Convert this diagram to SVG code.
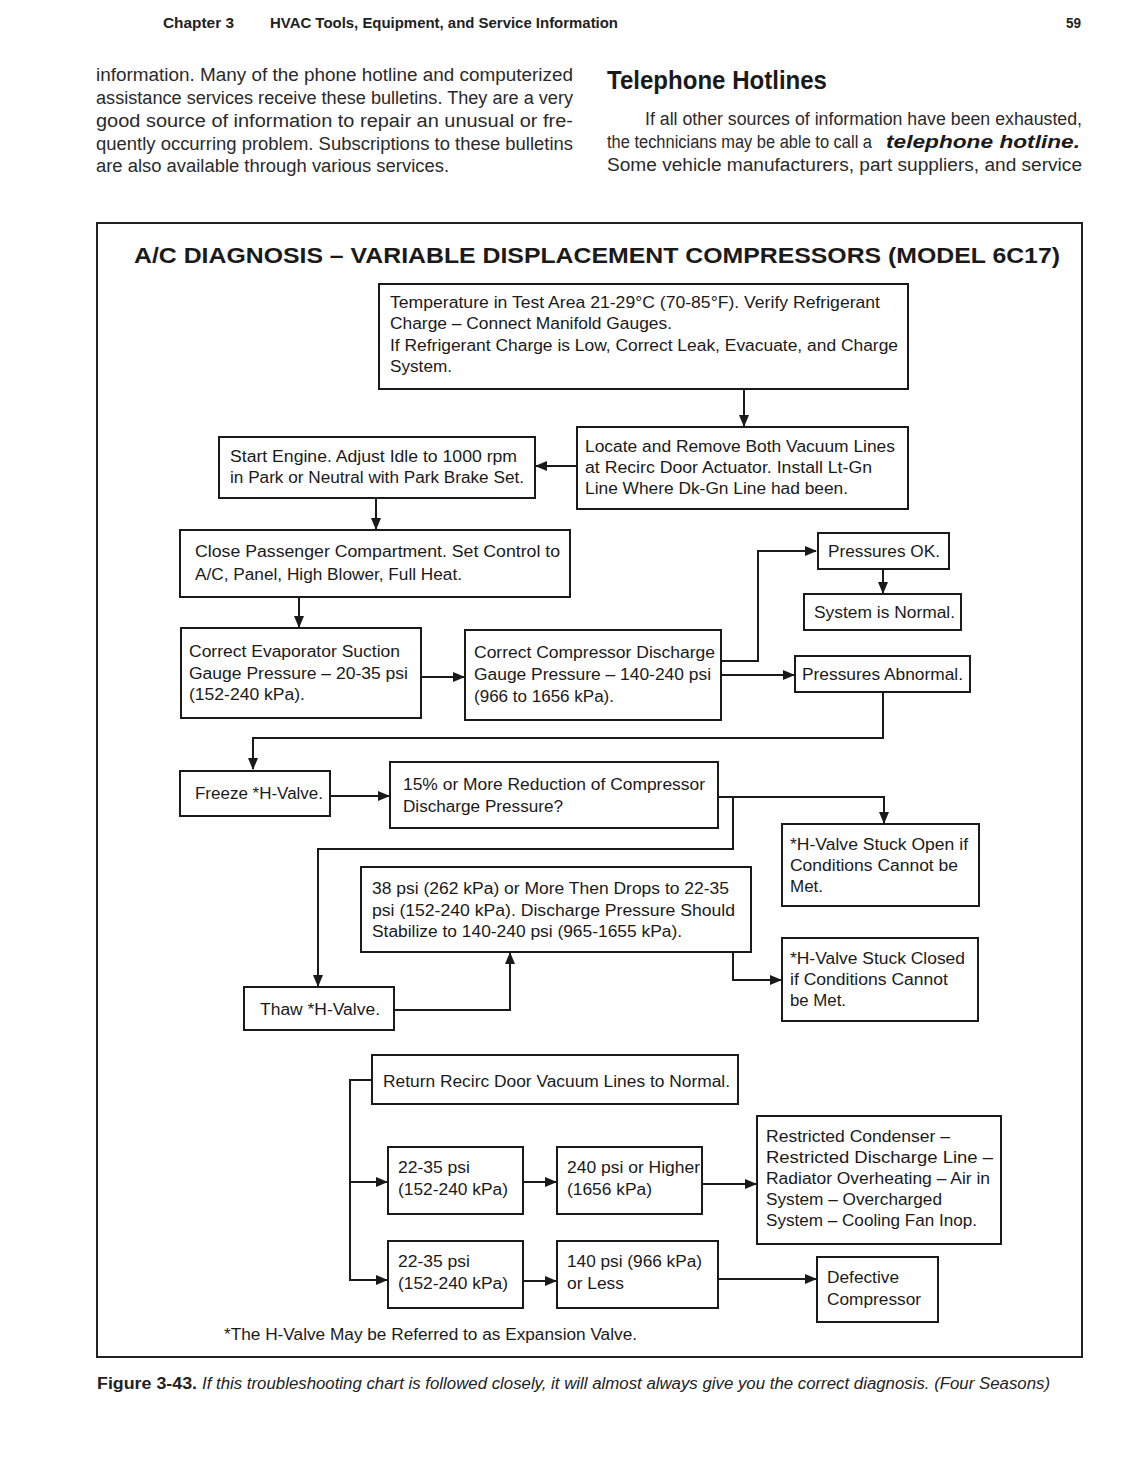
<svg xmlns="http://www.w3.org/2000/svg" width="1144" height="1467" viewBox="0 0 1144 1467">
<defs>
<marker id="ah" markerUnits="userSpaceOnUse" markerWidth="12" markerHeight="10" refX="11" refY="5" orient="auto">
<path d="M0,0 L12,5 L0,10 z" fill="#1a1a1a"/>
</marker>
</defs>
<style>
.pg{font-family:"Liberation Sans Narrow","Liberation Sans",Arial,sans-serif;font-size:18px;fill:#2a2a2a}
.hd{font-family:"Liberation Sans Narrow","Liberation Sans",Arial,sans-serif;font-size:15px;font-weight:bold;fill:#222}
.t{font-family:"Liberation Sans",Arial,sans-serif;font-size:16px;fill:#1a1a1a}
.box{fill:#fff;stroke:#1a1a1a;stroke-width:2}
.c{fill:none;stroke:#1a1a1a;stroke-width:2}
.cap{font-family:"Liberation Sans",Arial,sans-serif;font-size:16px;fill:#222}
</style>
<rect x="0" y="0" width="1144" height="1467" fill="#fff"/>

<!-- page header and text -->
<g id="page">
<text class="hd" x="163" y="28" textLength="71" lengthAdjust="spacingAndGlyphs">Chapter 3</text>
<text class="hd" x="270" y="28" textLength="348" lengthAdjust="spacingAndGlyphs">HVAC Tools, Equipment, and Service Information</text>
<text class="hd" x="1066" y="28" textLength="15" lengthAdjust="spacingAndGlyphs">59</text>
<text class="pg" x="96" y="81" textLength="477" lengthAdjust="spacingAndGlyphs">information. Many of the phone hotline and computerized</text>
<text class="pg" x="96" y="104" textLength="477" lengthAdjust="spacingAndGlyphs">assistance services receive these bulletins. They are a very</text>
<text class="pg" x="96" y="127" textLength="477" lengthAdjust="spacingAndGlyphs">good source of information to repair an unusual or fre-</text>
<text class="pg" x="96" y="150" textLength="477" lengthAdjust="spacingAndGlyphs">quently occurring problem. Subscriptions to these bulletins</text>
<text class="pg" x="96" y="172" textLength="353" lengthAdjust="spacingAndGlyphs">are also available through various services.</text>
<text class="pg" x="607" y="89" style="font-size:25px;font-weight:bold;fill:#1a1a1a" textLength="220" lengthAdjust="spacingAndGlyphs">Telephone Hotlines</text>
<text class="pg" x="645" y="125" textLength="437" lengthAdjust="spacingAndGlyphs">If all other sources of information have been exhausted,</text>
<text class="pg" x="607" y="148" textLength="265" lengthAdjust="spacingAndGlyphs">the technicians may be able to call a</text>
<text class="pg" x="886" y="148" style="font-weight:bold;font-style:italic;fill:#1a1a1a" textLength="194" lengthAdjust="spacingAndGlyphs">telephone hotline.</text>
<text class="pg" x="607" y="171" textLength="475" lengthAdjust="spacingAndGlyphs">Some vehicle manufacturers, part suppliers, and service</text>
</g>

<!-- figure frame and title -->
<rect x="97" y="223" width="985" height="1134" fill="none" stroke="#222" stroke-width="2"/>
<text class="t" x="134" y="263" style="font-size:22px;font-weight:bold" textLength="926" lengthAdjust="spacingAndGlyphs">A/C DIAGNOSIS – VARIABLE DISPLACEMENT COMPRESSORS (MODEL 6C17)</text>

<!-- connectors -->
<g id="connectors">
<path class="c" d="M744,389 V426" marker-end="url(#ah)"/>
<path class="c" d="M577,466 H536" marker-end="url(#ah)"/>
<path class="c" d="M376,498 V529" marker-end="url(#ah)"/>
<path class="c" d="M299,597 V627" marker-end="url(#ah)"/>
<path class="c" d="M421,677 H464" marker-end="url(#ah)"/>
<path class="c" d="M721,661 H758 V551 H816" marker-end="url(#ah)"/>
<path class="c" d="M883,569 V593" marker-end="url(#ah)"/>
<path class="c" d="M721,675 H794" marker-end="url(#ah)"/>
<path class="c" d="M883,692 V738 H253 V769" marker-end="url(#ah)"/>
<path class="c" d="M330,796 H389" marker-end="url(#ah)"/>
<path class="c" d="M718,797 H884 V823" marker-end="url(#ah)"/>
<path class="c" d="M733,797 V849 H318 V986" marker-end="url(#ah)"/>
<path class="c" d="M394,1010 H510 V953" marker-end="url(#ah)"/>
<path class="c" d="M733,952 V980 H781" marker-end="url(#ah)"/>
<path class="c" d="M372,1080 H350 V1280 H387" marker-end="url(#ah)"/>
<path class="c" d="M350,1182 H387" marker-end="url(#ah)"/>
<path class="c" d="M523,1182 H556" marker-end="url(#ah)"/>
<path class="c" d="M702,1184 H756" marker-end="url(#ah)"/>
<path class="c" d="M523,1281 H556" marker-end="url(#ah)"/>
<path class="c" d="M718,1279 H816" marker-end="url(#ah)"/>
</g>

<!-- nodes -->
<g id="n1">
<rect class="box" x="379" y="284" width="529" height="105"/>
<text class="t" x="390" y="308" textLength="490" lengthAdjust="spacingAndGlyphs">Temperature in Test Area 21-29°C (70-85°F).  Verify Refrigerant</text>
<text class="t" x="390" y="329" textLength="282" lengthAdjust="spacingAndGlyphs">Charge – Connect Manifold Gauges.</text>
<text class="t" x="390" y="351" textLength="508" lengthAdjust="spacingAndGlyphs">If Refrigerant Charge is Low, Correct Leak, Evacuate, and Charge</text>
<text class="t" x="390" y="372" textLength="62" lengthAdjust="spacingAndGlyphs">System.</text>
</g>
<g id="n2">
<rect class="box" x="577" y="427" width="331" height="82"/>
<text class="t" x="585" y="452" textLength="310" lengthAdjust="spacingAndGlyphs">Locate and Remove Both Vacuum Lines</text>
<text class="t" x="585" y="473" textLength="287" lengthAdjust="spacingAndGlyphs">at Recirc Door Actuator.  Install Lt-Gn</text>
<text class="t" x="585" y="494" textLength="263" lengthAdjust="spacingAndGlyphs">Line Where Dk-Gn Line had been.</text>
</g>
<g id="n3">
<rect class="box" x="219" y="437" width="316" height="61"/>
<text class="t" x="230" y="462" textLength="287" lengthAdjust="spacingAndGlyphs">Start Engine.  Adjust Idle to 1000 rpm</text>
<text class="t" x="230" y="483" textLength="294" lengthAdjust="spacingAndGlyphs">in Park or Neutral with Park Brake Set.</text>
</g>
<g id="n4">
<rect class="box" x="180" y="530" width="390" height="67"/>
<text class="t" x="195" y="557" textLength="365" lengthAdjust="spacingAndGlyphs">Close Passenger Compartment.  Set Control to</text>
<text class="t" x="195" y="580" textLength="267" lengthAdjust="spacingAndGlyphs">A/C, Panel, High Blower, Full Heat.</text>
</g>
<g id="n5">
<rect class="box" x="181" y="628" width="240" height="90"/>
<text class="t" x="189" y="657" textLength="211" lengthAdjust="spacingAndGlyphs">Correct Evaporator Suction</text>
<text class="t" x="189" y="679" textLength="219" lengthAdjust="spacingAndGlyphs">Gauge Pressure – 20-35 psi</text>
<text class="t" x="189" y="700" textLength="116" lengthAdjust="spacingAndGlyphs">(152-240 kPa).</text>
</g>
<g id="n6">
<rect class="box" x="465" y="630" width="256" height="90"/>
<text class="t" x="474" y="658" textLength="241" lengthAdjust="spacingAndGlyphs">Correct Compressor Discharge</text>
<text class="t" x="474" y="680" textLength="237" lengthAdjust="spacingAndGlyphs">Gauge Pressure – 140-240 psi</text>
<text class="t" x="474" y="702" textLength="140" lengthAdjust="spacingAndGlyphs">(966 to 1656 kPa).</text>
</g>
<g id="n7">
<rect class="box" x="818" y="533" width="131" height="36"/>
<text class="t" x="828" y="557" textLength="112" lengthAdjust="spacingAndGlyphs">Pressures OK.</text>
</g>
<g id="n8">
<rect class="box" x="804" y="594" width="157" height="36"/>
<text class="t" x="814" y="618" textLength="141" lengthAdjust="spacingAndGlyphs">System is Normal.</text>
</g>
<g id="n9">
<rect class="box" x="795" y="656" width="175" height="36"/>
<text class="t" x="802" y="680" textLength="161" lengthAdjust="spacingAndGlyphs">Pressures Abnormal.</text>
</g>
<g id="n10">
<rect class="box" x="180" y="771" width="150" height="45"/>
<text class="t" x="195" y="799" textLength="128" lengthAdjust="spacingAndGlyphs">Freeze *H-Valve.</text>
</g>
<g id="n11">
<rect class="box" x="390" y="762" width="328" height="66"/>
<text class="t" x="403" y="790" textLength="302" lengthAdjust="spacingAndGlyphs">15% or More Reduction of Compressor</text>
<text class="t" x="403" y="812" textLength="160" lengthAdjust="spacingAndGlyphs">Discharge Pressure?</text>
</g>
<g id="n12">
<rect class="box" x="782" y="824" width="197" height="82"/>
<text class="t" x="790" y="850" textLength="178" lengthAdjust="spacingAndGlyphs">*H-Valve Stuck Open if</text>
<text class="t" x="790" y="871" textLength="168" lengthAdjust="spacingAndGlyphs">Conditions Cannot be</text>
<text class="t" x="790" y="892" textLength="33" lengthAdjust="spacingAndGlyphs">Met.</text>
</g>
<g id="n13">
<rect class="box" x="361" y="867" width="390" height="85"/>
<text class="t" x="372" y="894" textLength="357" lengthAdjust="spacingAndGlyphs">38 psi (262 kPa) or More Then Drops to 22-35</text>
<text class="t" x="372" y="916" textLength="363" lengthAdjust="spacingAndGlyphs">psi (152-240 kPa).  Discharge Pressure Should</text>
<text class="t" x="372" y="937" textLength="310" lengthAdjust="spacingAndGlyphs">Stabilize to 140-240 psi (965-1655 kPa).</text>
</g>
<g id="n14">
<rect class="box" x="782" y="938" width="196" height="83"/>
<text class="t" x="790" y="964" textLength="175" lengthAdjust="spacingAndGlyphs">*H-Valve Stuck Closed</text>
<text class="t" x="790" y="985" textLength="158" lengthAdjust="spacingAndGlyphs">if Conditions Cannot</text>
<text class="t" x="790" y="1006" textLength="56" lengthAdjust="spacingAndGlyphs">be Met.</text>
</g>
<g id="n15">
<rect class="box" x="244" y="987" width="150" height="43"/>
<text class="t" x="260" y="1015" textLength="120" lengthAdjust="spacingAndGlyphs">Thaw *H-Valve.</text>
</g>
<g id="n16">
<rect class="box" x="372" y="1055" width="366" height="49"/>
<text class="t" x="383" y="1087" textLength="347" lengthAdjust="spacingAndGlyphs">Return Recirc Door Vacuum Lines to Normal.</text>
</g>
<g id="n17">
<rect class="box" x="388" y="1147" width="135" height="67"/>
<text class="t" x="398" y="1173" textLength="72" lengthAdjust="spacingAndGlyphs">22-35 psi</text>
<text class="t" x="398" y="1195" textLength="110" lengthAdjust="spacingAndGlyphs">(152-240 kPa)</text>
</g>
<g id="n18">
<rect class="box" x="557" y="1147" width="145" height="67"/>
<text class="t" x="567" y="1173" textLength="133" lengthAdjust="spacingAndGlyphs">240 psi or Higher</text>
<text class="t" x="567" y="1195" textLength="85" lengthAdjust="spacingAndGlyphs">(1656 kPa)</text>
</g>
<g id="n19">
<rect class="box" x="757" y="1116" width="244" height="128"/>
<text class="t" x="766" y="1142" textLength="184" lengthAdjust="spacingAndGlyphs">Restricted Condenser –</text>
<text class="t" x="766" y="1163" textLength="227" lengthAdjust="spacingAndGlyphs">Restricted Discharge Line –</text>
<text class="t" x="766" y="1184" textLength="224" lengthAdjust="spacingAndGlyphs">Radiator Overheating – Air in</text>
<text class="t" x="766" y="1205" textLength="176" lengthAdjust="spacingAndGlyphs">System – Overcharged</text>
<text class="t" x="766" y="1226" textLength="211" lengthAdjust="spacingAndGlyphs">System – Cooling Fan Inop.</text>
</g>
<g id="n20">
<rect class="box" x="388" y="1241" width="135" height="67"/>
<text class="t" x="398" y="1267" textLength="72" lengthAdjust="spacingAndGlyphs">22-35 psi</text>
<text class="t" x="398" y="1289" textLength="110" lengthAdjust="spacingAndGlyphs">(152-240 kPa)</text>
</g>
<g id="n21">
<rect class="box" x="557" y="1241" width="161" height="67"/>
<text class="t" x="567" y="1267" textLength="135" lengthAdjust="spacingAndGlyphs">140 psi (966 kPa)</text>
<text class="t" x="567" y="1289" textLength="57" lengthAdjust="spacingAndGlyphs">or Less</text>
</g>
<g id="n22">
<rect class="box" x="817" y="1257" width="121" height="65"/>
<text class="t" x="827" y="1283" textLength="72" lengthAdjust="spacingAndGlyphs">Defective</text>
<text class="t" x="827" y="1305" textLength="94" lengthAdjust="spacingAndGlyphs">Compressor</text>
</g>
<text class="t" x="224" y="1340" textLength="413" lengthAdjust="spacingAndGlyphs">*The H-Valve May be Referred to as Expansion Valve.</text>

<!-- caption -->
<text class="cap" x="97" y="1389" style="font-weight:bold" textLength="100" lengthAdjust="spacingAndGlyphs">Figure 3-43.</text>
<text class="cap" x="202" y="1389" style="font-style:italic" textLength="848" lengthAdjust="spacingAndGlyphs">If this troubleshooting chart is followed closely, it will almost always give you the correct diagnosis. (Four Seasons)</text>
</svg>
